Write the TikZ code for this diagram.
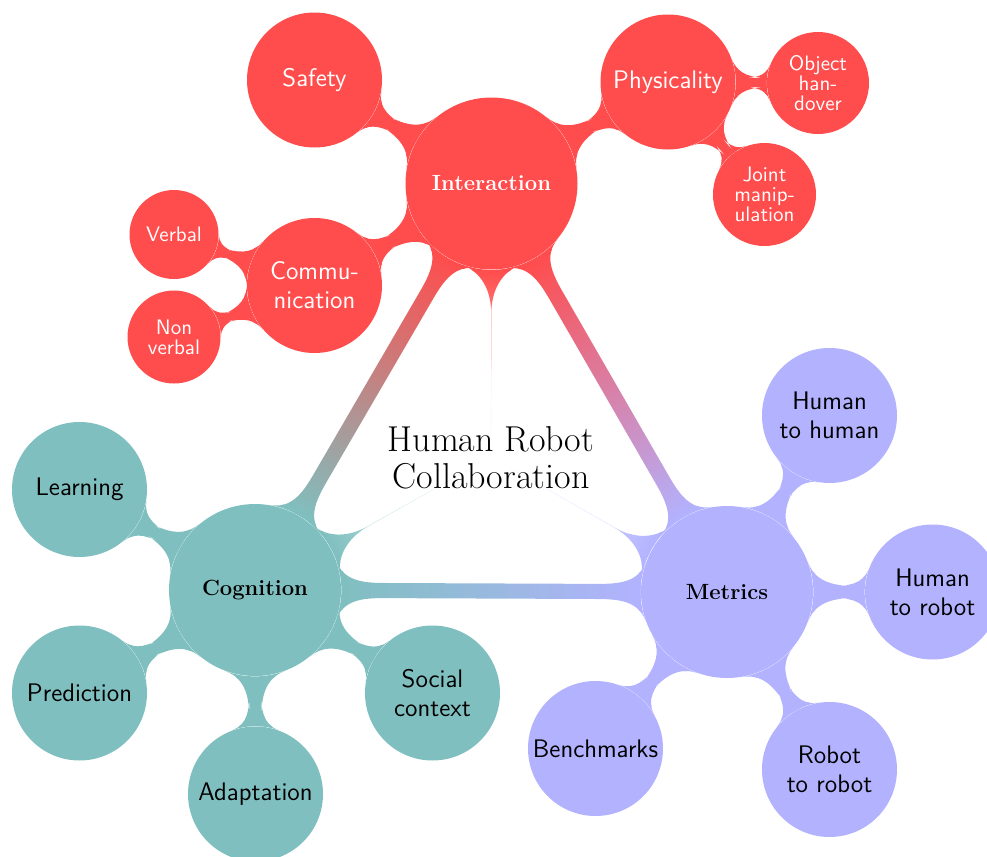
\documentclass[tikz,border=0pt]{standalone}
\usetikzlibrary{mindmap,backgrounds}
\colorlet{cI}{red!70}
\colorlet{cC}{teal!50}
\colorlet{cM}{blue!30}
\tikzset{
  cnode/.style={circle, inner sep=0pt, align=center},
  rootc/.style={align=center, inner sep=0pt, font=\fontsize{18}{18.5}\selectfont, text=black},
  corec/.style={circle, inner sep=0pt, minimum size=0.6pt},
  lone/.style={cnode, minimum size=86pt, font=\fontsize{11}{13}\selectfont\bfseries},
  ltwo/.style={cnode, minimum size=67.5pt, font=\sffamily\fontsize{12.7}{14.5}\selectfont},
  lthree/.style={cnode, minimum size=44.5pt, font=\sffamily\fontsize{10.5}{10}\selectfont},
  linkbar/.style args={#1/#2}{circle connection bar switch color=from (#1) to (#2)},
}
\begin{document}
\begin{tikzpicture}[x=0.5pt,y=-0.5pt]
\clip (0,0) rectangle (987,857);
% root
\node[corec] (core) at (491,457) {};
\node[rootc] (root) at (491,458) {Human Robot\\Collaboration};
% level 1
\node[lone, fill=cI, text=white] (inter) at (491.5,183.5) {Interaction};
\node[lone, fill=cC, text=black] (cog) at (255,590) {Cognition};
\node[lone, fill=cM, text=black] (met) at (727,592) {Metrics};
% interaction children
\node[ltwo, fill=cI, text=white] (safety) at (314.5,80) {Safety};
\node[ltwo, fill=cI, text=white] (phys) at (668,82) {Physicality};
\node[ltwo, fill=cI, text=white] (comm) at (314.5,285.5) {Commu-\\nication};
\node[lthree, fill=cI, text=white] (verbal) at (174,234.5) {Verbal};
\node[lthree, fill=cI, text=white, minimum size=46.5pt] (nonverbal) at (174,337) {Non\\verbal};
\node[lthree, fill=cI, text=white, minimum size=51pt] (object) at (818,83) {Object\\han-\\dover};
\node[lthree, fill=cI, text=white, minimum size=51.5pt] (joint) at (764.5,194.5) {Joint\\manip-\\ulation};
% cognition children
\node[ltwo, fill=cC, text=black] (learning) at (79.5,489.5) {Learning};
\node[ltwo, fill=cC, text=black] (prediction) at (79.5,693) {Prediction};
\node[ltwo, fill=cC, text=black] (adaptation) at (255.5,794) {Adaptation};
\node[ltwo, fill=cC, text=black] (social) at (432.5,693) {Social\\context};
% metrics children
\node[ltwo, fill=cM, text=black] (hh) at (829.5,415.5) {Human\\to human};
\node[ltwo, fill=cM, text=black] (hr) at (932.5,592) {Human\\to robot};
\node[ltwo, fill=cM, text=black] (rr) at (829.5,769.5) {Robot\\to robot};
\node[ltwo, fill=cM, text=black] (bench) at (595.5,748.5) {Benchmarks};
\begin{pgfonlayer}{background}
% root connections
\path (core) to[linkbar=white/cI] (inter);
\path (core) to[linkbar=white/cC] (cog);
\path (core) to[linkbar=white/cM] (met);
% cross connections
\path (inter) to[linkbar=cI/cC] (cog);
\path (inter) to[linkbar=cI/cM] (met);
\path (cog) to[linkbar=cC/cM] (met);
% level 1 to level 2
\path (inter) to[linkbar=cI/cI] (safety);
\path (inter) to[linkbar=cI/cI] (phys);
\path (inter) to[linkbar=cI/cI] (comm);
\path (cog) to[linkbar=cC/cC] (learning);
\path (cog) to[linkbar=cC/cC] (prediction);
\path (cog) to[linkbar=cC/cC] (adaptation);
\path (cog) to[linkbar=cC/cC] (social);
\path (met) to[linkbar=cM/cM] (hh);
\path (met) to[linkbar=cM/cM] (hr);
\path (met) to[linkbar=cM/cM] (rr);
\path (met) to[linkbar=cM/cM] (bench);
% level 2 to level 3
\path (comm) to[linkbar=cI/cI] (verbal);
\path (comm) to[linkbar=cI/cI] (nonverbal);
\path (phys) to[linkbar=cI/cI] (object);
\path (phys) to[linkbar=cI/cI] (joint);
\end{pgfonlayer}
\end{tikzpicture}
\end{document}
